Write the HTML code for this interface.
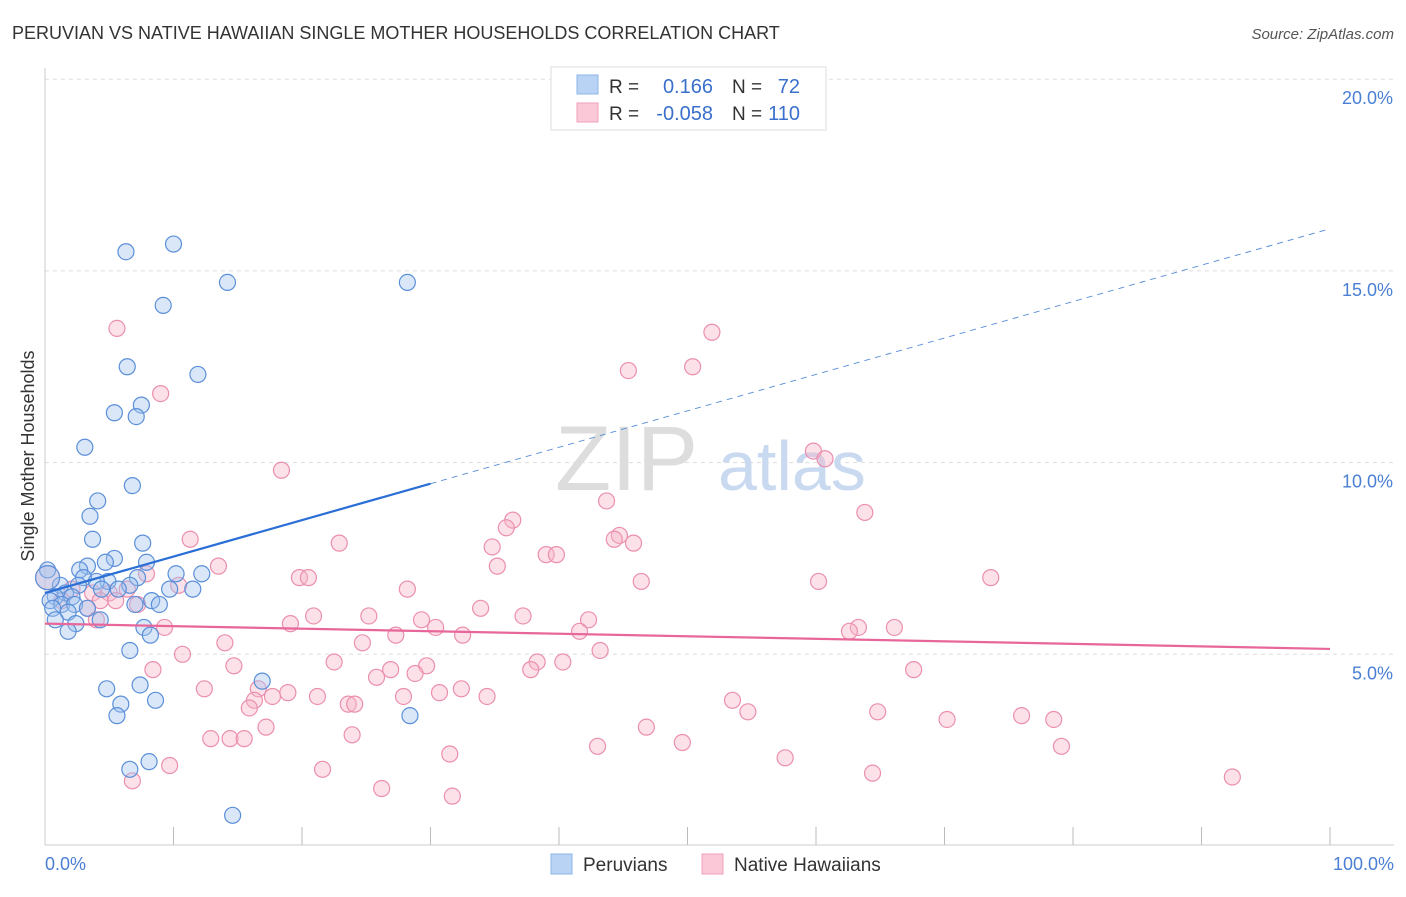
<!DOCTYPE html>
<html><head><meta charset="utf-8"><style>
body{margin:0;background:#fff;font-family:"Liberation Sans",sans-serif;}
svg text{font-family:"Liberation Sans",sans-serif;}
</style></head><body>
<svg id="chart" width="1406" height="892" xmlns="http://www.w3.org/2000/svg">
<text x="12" y="39" font-size="18" fill="#333">PERUVIAN VS NATIVE HAWAIIAN SINGLE MOTHER HOUSEHOLDS CORRELATION CHART</text>
<text x="1394" y="39" font-size="15" fill="#555" text-anchor="end" font-style="italic">Source: ZipAtlas.com</text>
<g id="grid"></g>
<g>
<text x="555" y="490" font-size="92" fill="#ddd" font-family="Liberation Serif, serif">ZIP</text>
<text x="718" y="490" font-size="70" fill="#c9d9f0">atlas</text>
</g>
<line x1="45" y1="68" x2="45" y2="845" stroke="#ccc"/>
<line x1="45" y1="845" x2="1394" y2="845" stroke="#ccc"/>
<text transform="translate(34,456) rotate(-90)" font-size="18" fill="#333" text-anchor="middle">Single Mother Households</text>
<text x="45" y="870" font-size="18" fill="#4a7fd4">0.0%</text>
<text x="1394" y="870" font-size="18" fill="#4a7fd4" text-anchor="end">100.0%</text>
<g id="marks"></g>
<g>
<rect x="551" y="67" width="275" height="63" fill="#fff" stroke="#ddd"/>
<rect x="577" y="75" width="21" height="19" fill="#b9d3f5" stroke="#8db4e8"/>
<rect x="577" y="103" width="21" height="19" fill="#fac8d6" stroke="#f0a0b8"/>
<text x="609" y="93" font-size="19" fill="#333">R =</text>
<text x="713" y="93" font-size="20" fill="#3a70cc" text-anchor="end">0.166</text>
<text x="732" y="93" font-size="19" fill="#333">N =</text>
<text x="800" y="93" font-size="20" fill="#3a70cc" text-anchor="end">72</text>
<text x="609" y="120" font-size="19" fill="#333">R =</text>
<text x="713" y="120" font-size="20" fill="#3a70cc" text-anchor="end">-0.058</text>
<text x="732" y="120" font-size="19" fill="#333">N =</text>
<text x="800" y="120" font-size="20" fill="#3a70cc" text-anchor="end">110</text>
</g>
<g>
<rect x="551" y="854" width="21" height="20" fill="#b9d3f5" stroke="#8db4e8"/>
<text x="583" y="871" font-size="19" fill="#333">Peruvians</text>
<rect x="702" y="854" width="21" height="20" fill="#fac8d6" stroke="#f0a0b8"/>
<text x="734" y="871" font-size="19" fill="#333">Native Hawaiians</text>
</g>
</svg>
<script>
const yTicks=[5,10,15,20];
const yTickLabels=["5.0%","10.0%","15.0%","20.0%"];
const xTicks=[0,10,20,30,40,50,60,70,80,90,100];
const peruX=[6.3,10.0,14.2,28.2,9.2,6.4,11.9,7.5,5.4,7.1,3.1,6.8,4.1,3.5,3.7,7.6,5.4,4.7,3.3,7.9,2.7,10.2,12.2,0.2,3.0,7.2,4.9,4.0,2.6,1.2,6.6,9.7,11.5,4.4,5.7,1.6,2.1,0.8,0.4,1.3,2.3,8.3,7.0,8.9,0.6,1.8,3.3,4.3,0.8,2.4,1.8,7.7,8.2,6.6,16.9,4.8,7.4,8.6,5.9,5.6,28.4,8.1,6.6,14.6,0.2];
const peruY=[15.5,15.7,14.7,14.7,14.1,12.5,12.3,11.5,11.3,11.2,10.4,9.4,9.0,8.6,8.0,7.9,7.5,7.4,7.3,7.4,7.2,7.1,7.1,7.2,7.0,7.0,6.9,6.9,6.8,6.8,6.8,6.7,6.7,6.7,6.7,6.6,6.5,6.5,6.4,6.3,6.3,6.4,6.3,6.3,6.2,6.1,6.2,5.9,5.9,5.8,5.6,5.7,5.5,5.1,4.3,4.1,4.2,3.8,3.7,3.4,3.4,2.2,2.0,0.8,7.0];
const hawX=[5.6,51.9,45.4,50.4,9.0,59.8,60.7,18.4,43.7,63.8,36.4,35.9,44.7,44.3,45.8,11.3,22.9,34.8,39.0,39.8,13.5,35.2,7.9,19.8,20.5,46.4,60.2,73.6,10.4,6.4,28.2,3.7,2.1,5.0,5.5,7.2,4.3,1.3,3.3,33.9,20.9,25.2,29.3,37.2,42.3,4.0,9.3,19.1,30.4,41.6,63.3,62.6,66.1,27.3,32.5,14.0,24.7,43.2,10.7,22.5,38.3,40.3,8.4,14.7,26.9,29.7,37.8,25.8,28.8,67.6,16.6,12.4,18.9,32.4,30.7,21.2,17.7,27.9,34.4,16.3,15.9,23.6,24.1,53.5,54.7,64.8,70.2,76.0,78.5,17.2,46.8,12.9,14.4,15.5,23.9,49.6,43.0,79.1,31.5,57.6,9.7,21.6,64.4,6.8,92.4,26.2,31.7,0.2];
const hawY=[13.5,13.4,12.4,12.5,11.8,10.3,10.1,9.8,9.0,8.7,8.5,8.3,8.1,8.0,7.9,8.0,7.9,7.8,7.6,7.6,7.3,7.3,7.1,7.0,7.0,6.9,6.9,7.0,6.8,6.7,6.7,6.6,6.7,6.6,6.4,6.3,6.4,6.4,6.2,6.2,6.0,6.0,5.9,6.0,5.9,5.9,5.7,5.8,5.7,5.6,5.7,5.6,5.7,5.5,5.5,5.3,5.3,5.1,5.0,4.8,4.8,4.8,4.6,4.7,4.6,4.7,4.6,4.4,4.5,4.6,4.1,4.1,4.0,4.1,4.0,3.9,3.9,3.9,3.9,3.8,3.6,3.7,3.7,3.8,3.5,3.5,3.3,3.4,3.3,3.1,3.1,2.8,2.8,2.8,2.9,2.7,2.6,2.6,2.4,2.3,2.1,2.0,1.9,1.7,1.8,1.5,1.3,7.0];
const peruTrend=[6.6,16.1];
const hawTrend=[5.8,5.14];
const NS="http://www.w3.org/2000/svg";
const sx=v=>45+v*12.85, sy=v=>846-v*38.34;
const svg=document.getElementById('chart'),grid=document.getElementById('grid'),marks=document.getElementById('marks');
function mk(tag,attrs,parent){const e=document.createElementNS(NS,tag);for(const k in attrs)e.setAttribute(k,attrs[k]);parent.appendChild(e);return e;}
yTicks.forEach((t,i)=>{
 const l=mk('line',{x1:45,x2:1394,y1:sy(t),y2:sy(t),stroke:'#ddd','stroke-dasharray':'4,4'},grid);
 
 
 const tx=mk('text',{x:1393,y:sy(t)+25,'font-size':18,fill:'#4a7fd4','text-anchor':'end'},grid);
 tx.textContent=yTickLabels[i];
 
 
});
xTicks.forEach(t=>{
 const l=mk('line',{x1:sx(t),x2:sx(t),y1:827,y2:845,stroke:'#bbb'},grid);
 
 
});
function pts(xs,ys,fill,stroke,name){
 xs.forEach((x,i)=>{
  const big=i===xs.length-1;
  const c=mk('circle',{cx:sx(x),cy:sy(ys[i]),r:big?12:8,fill:fill,stroke:stroke,'stroke-width':1.2},marks);
  
  
 });
}
pts(hawX,hawY,'rgba(248,180,200,0.4)','#eb8fae','native-hawaiian-point');
pts(peruX,peruY,'rgba(160,195,240,0.4)','#5b8fd8','peruvian-point');
const ps=(peruTrend[1]-peruTrend[0])/100;
let l1=mk('line',{x1:sx(0),y1:sy(peruTrend[0]),x2:sx(30),y2:sy(peruTrend[0]+ps*30),stroke:'#2a6fd6','stroke-width':2.2},marks);


let l2=mk('line',{x1:sx(30),y1:sy(peruTrend[0]+ps*30),x2:sx(100),y2:sy(peruTrend[1]),stroke:'#5b8fd8','stroke-width':1,'stroke-dasharray':'6,5'},marks);


let l3=mk('line',{x1:sx(0),y1:sy(hawTrend[0]),x2:sx(100),y2:sy(hawTrend[1]),stroke:'#e8679a','stroke-width':2.2},marks);


</script>
</body></html>
